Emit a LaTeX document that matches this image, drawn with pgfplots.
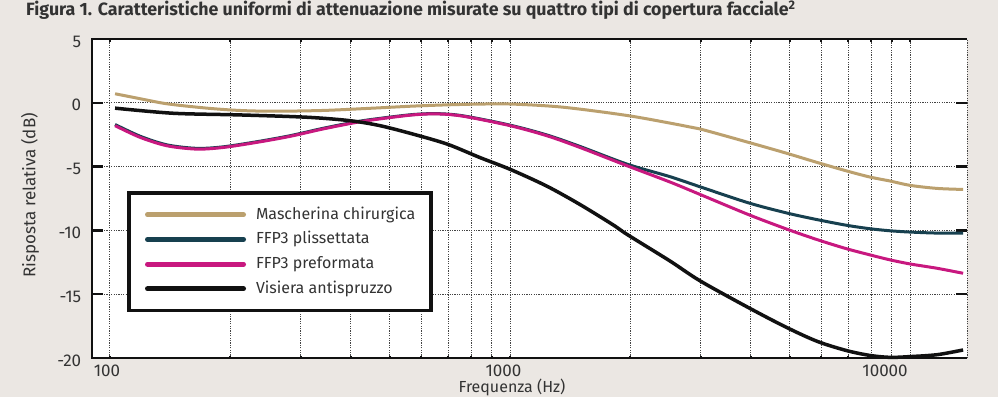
\documentclass[border=0pt]{standalone}
\usepackage{fontspec}
\setmainfont{Fira Sans}
\usepackage{pgfplots}
\pgfplotsset{compat=1.18}
\definecolor{bgc}{HTML}{EBE7E3}
\definecolor{tanc}{HTML}{BBA06E}
\definecolor{tealc}{HTML}{17404F}
\definecolor{pinkc}{HTML}{C8187F}
\definecolor{blk}{HTML}{111111}
\definecolor{txt}{HTML}{333333}
\definecolor{gridc}{HTML}{444444}
\begin{document}
\begin{tikzpicture}[x=1pt,y=1pt]
\fill[bgc] (0,0) rectangle (998,397);
\node[anchor=base west, inner sep=0pt, font=\bfseries\fontsize{17.8}{19}\selectfont, text=txt] at (26,381) {Figura 1. Caratteristiche uniformi di attenuazione misurate su quattro tipi di copertura facciale\textsuperscript{2}};
\begin{axis}[
  at={(92pt,39pt)}, anchor=south west,
  scale only axis, width=875pt, height=319pt,
  xmode=log, xmin=90.2, xmax=13880, ymin=-20, ymax=5,
  clip=false,
  axis background/.style={fill=white},
  axis line style={draw=none},
  xtick={100,1000,10000},
  xticklabels={\makebox[0pt]{\hspace*{-6pt}100},\makebox[0pt]{\hspace*{-13pt}1000},\makebox[0pt]{\hspace*{-50pt}10000}},
  minor xtick={200,300,400,500,600,700,800,900,2000,3000,4000,5000,6000,7000,8000,9000},
  ytick={-20,-15,-10,-5,0,5},
  yticklabels={-20,-15,-10,-5,0,5},
  xmajorgrids=true, xminorgrids=true, ymajorgrids=true,
  grid style={gridc, line width=0.9pt, dash pattern=on 1.2pt off 1.2pt},
  minor grid style={gridc, line width=0.9pt, dash pattern=on 1.2pt off 1.2pt},
  major tick length=11pt, minor tick length=2.5pt,
  ytick style={blk, line width=2.5pt},
  xtick style={blk, line width=2pt, /pgfplots/major tick length=2.5pt},
  minor tick style={blk, line width=2pt},
  tick label style={font=\fontsize{17}{17}\selectfont, text=txt},
  xticklabel style={yshift=-3pt},
  yticklabel style={xshift=-7.3pt, yshift=-2.5pt},
  ylabel={Risposta relativa (dB)},
  ylabel style={at={(axis description cs:-0.0709,0.51)}, anchor=center, font=\fontsize{17}{17}\selectfont, text=txt},
  legend image code/.code={\draw[#1, line width=5pt, line cap=round] (0pt,0pt) -- (96pt,0pt);},
  legend cell align=left,
  legend style={at={(rel axis cs:0.0423,0.5172)}, anchor=north west, outer sep=0pt,
    draw=blk, line width=3.5pt, fill=white, inner xsep=16pt, inner ysep=13.5pt,
    row sep=8.2pt, column sep=10pt,
    font=\fontsize{16}{16}\selectfont, text=txt,
    nodes={inner sep=0pt, text height=12.5pt, text depth=4pt}},
]
\addplot[tanc, line width=3pt, smooth] coordinates {
(103,0.71) (119,0.32) (139,-0.08) (175,-0.42) (211,-0.60) (256,-0.66) (341,-0.60) (454,-0.42) (572,-0.26) (697,-0.16) (841,-0.10) (1012,-0.10) (1352,-0.34) (1968,-1.00) (2661,-1.74) (2985,-2.05) (3945,-3.10) (4910,-3.95) (5867,-4.68) (6943,-5.34) (7943,-5.82) (8913,-6.13) (10000,-6.47) (11690,-6.71) (13570,-6.79)};
\addlegendentry{Mascherina chirurgica}
\addplot[tealc, line width=3pt, smooth] coordinates {
(103,-1.70) (119,-2.62) (139,-3.30) (165,-3.57) (192,-3.45) (233,-3.05) (282,-2.58) (341,-2.00) (414,-1.48) (473,-1.22) (572,-0.92) (657,-0.85) (763,-1.02) (1000,-1.75) (1236,-2.52) (1496,-3.42) (1968,-4.82) (2512,-5.79) (2985,-6.58) (3945,-7.84) (4910,-8.63) (5867,-9.16) (6943,-9.60) (7943,-9.87) (8913,-10.03) (10000,-10.13) (11690,-10.21) (13570,-10.21)};
\addlegendentry{FFP3 plissettata}
\addplot[pinkc, line width=3pt, smooth] coordinates {
(103,-1.79) (119,-2.71) (139,-3.37) (165,-3.63) (192,-3.50) (233,-3.10) (282,-2.63) (341,-2.05) (414,-1.53) (473,-1.26) (572,-0.95) (657,-0.87) (763,-1.05) (1000,-1.79) (1236,-2.58) (1496,-3.50) (1968,-4.95) (2512,-6.21) (2985,-7.18) (3945,-8.76) (4910,-9.89) (5867,-10.73) (6943,-11.44) (7943,-11.92) (8913,-12.31) (10000,-12.63) (11690,-12.97) (13570,-13.36)};
\addlegendentry{FFP3 preformata}
\addplot[blk, line width=3.5pt, smooth] coordinates {
(103,-0.42) (144,-0.82) (211,-0.95) (310,-1.13) (398,-1.40) (473,-1.79) (572,-2.45) (697,-3.24) (841,-4.29) (1000,-5.21) (1236,-6.53) (1496,-7.97) (1807,-9.55) (1968,-10.34) (2512,-12.40) (2985,-13.95) (3945,-16.05) (4910,-17.60) (5867,-18.70) (6943,-19.42) (7943,-19.80) (8913,-19.95) (10000,-19.89) (11690,-19.74) (13570,-19.37)};
\addlegendentry{Visiera antispruzzo}
\draw[gridc, line width=0.9pt, dash pattern=on 1.2pt off 1.2pt] (rel axis cs:1,0) -- (rel axis cs:1,1);
\draw[blk, line width=2.7pt, line join=miter] (rel axis cs:1,1) -- (rel axis cs:0,1) -- (rel axis cs:0,0) -- (rel axis cs:1,0);
\end{axis}
\node[anchor=base, inner sep=0pt, font=\fontsize{16}{16}\selectfont, text=txt] at (512,4.5) {Frequenza (Hz)};
\pgfresetboundingbox
\useasboundingbox (0,0) rectangle (998,397);
\end{tikzpicture}
\end{document}
